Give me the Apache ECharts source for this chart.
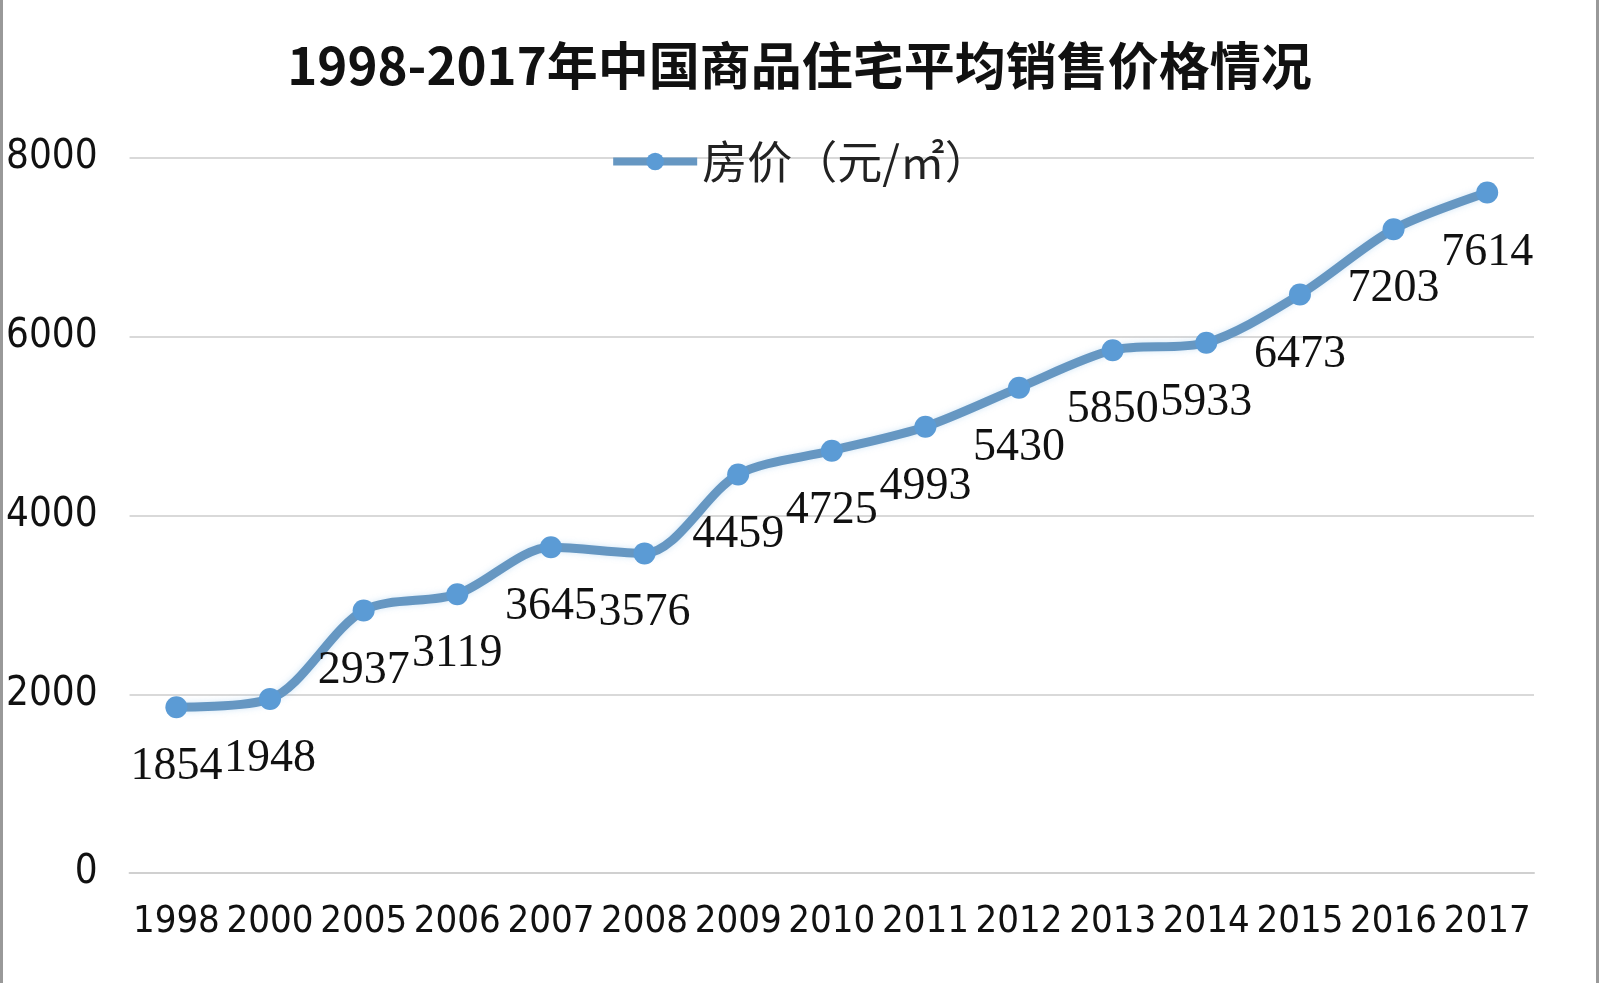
<!DOCTYPE html>
<html><head><meta charset="utf-8">
<script src="https://cdn.jsdelivr.net/npm/echarts@6/dist/echarts.min.js"></script>
<style>html,body{margin:0;padding:0;background:#fff}#c{width:1599px;height:983px;box-sizing:border-box;border-left:3px solid #999;border-right:3px solid #999}</style>
</head><body><div id="c"></div>
<script>
const categories = ['1998','2000','2005','2006','2007','2008','2009','2010','2011','2012','2013','2014','2015','2016','2017'];
const prices = [1854,1948,2937,3119,3645,3576,4459,4725,4993,5430,5850,5933,6473,7203,7614];
const seriesName = '房价（元/㎡）';
const titleText = '1998-2017年中国商品住宅平均销售价格情况';

const axisFont = 'Liberation Sans Narrow, DejaVu Sans Condensed, sans-serif';
const chart = echarts.init(document.getElementById('c'));
chart.setOption({
  backgroundColor: '#fff',
  title: {
    text: titleText, left: 'center', top: 35,
    textStyle: {fontFamily: 'Noto Sans CJK SC', fontSize: 51, fontWeight: 'bold', color: '#111'}
  },
  legend: {
    data: [seriesName], top: 134, left: 'center',
    itemWidth: 84, itemHeight: 22, itemGap: 6,
    lineStyle: {width: 8},
    textStyle: {fontFamily: 'Noto Sans CJK SC', fontSize: 45, color: '#222'}
  },
  grid: {left: 120, right: 62, top: 158, bottom: 110, containLabel: false},
  xAxis: {
    type: 'category', data: categories, boundaryGap: true,
    axisLine: {show: true, lineStyle: {color: '#d0d0d0', width: 2}},
    axisTick: {show: false},
    axisLabel: {interval: 0, margin: 30, fontFamily: axisFont, fontSize: 38, color: '#111'}
  },
  yAxis: {
    type: 'value', min: 0, max: 8000, interval: 2000,
    axisLine: {show: false}, axisTick: {show: false},
    splitLine: {lineStyle: {color: '#d9d9d9', width: 2}},
    axisLabel: {margin: 32, fontFamily: axisFont, fontSize: 40, color: '#111', formatter: v => String(v)}
  },
  series: [{
    name: seriesName, type: 'line', data: prices, smooth: 0.3,
    symbol: 'circle', symbolSize: 22,
    lineStyle: {color: '#6697c2', width: 9, shadowColor: 'rgba(120,180,230,0.35)', shadowBlur: 6},
    itemStyle: {color: '#5b9bd5'},
    label: {show: true, position: 'bottom', distance: 26, fontFamily: 'Liberation Serif', fontSize: 46, color: '#111'}
  }]
});
</script></body></html>
